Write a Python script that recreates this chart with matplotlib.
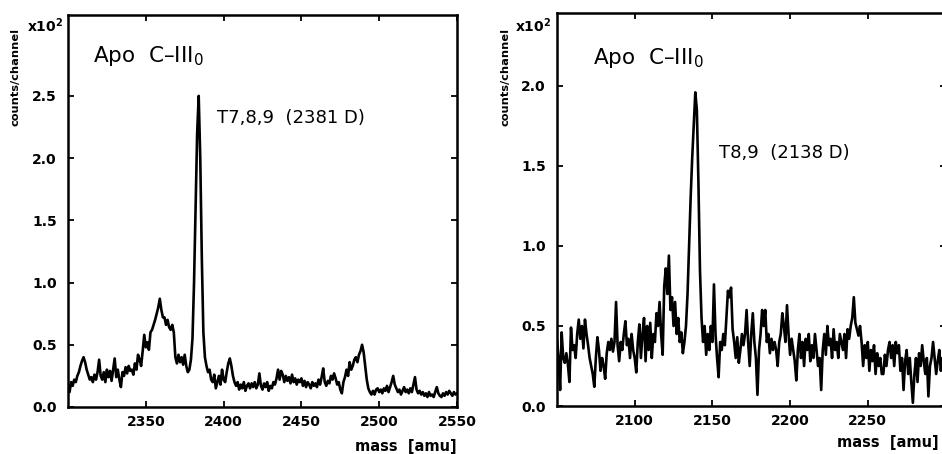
import numpy as np
import matplotlib
matplotlib.use('Agg')
import matplotlib.pyplot as plt

plt.rcParams['font.family'] = ['DejaVu Sans']

# --- channel grids (1 amu per channel) ---
mass_left = np.arange(2300, 2551)
mass_right = np.arange(2050, 2301)

# counts/channel in units of 1e2
counts_left = [
    0.18, 0.12, 0.20, 0.17, 0.22, 0.20, 0.25, 0.28, 0.33, 0.37,
    0.40, 0.36, 0.30, 0.26, 0.22, 0.24, 0.20, 0.26, 0.22, 0.28,
    0.38, 0.25, 0.22, 0.28, 0.20, 0.30, 0.24, 0.29, 0.21, 0.30,
    0.39, 0.24, 0.30, 0.22, 0.16, 0.28, 0.25, 0.32, 0.27, 0.33,
    0.29, 0.30, 0.26, 0.35, 0.30, 0.42, 0.38, 0.33, 0.45, 0.58,
    0.48, 0.52, 0.46, 0.60, 0.62, 0.66, 0.70, 0.75, 0.80, 0.87,
    0.78, 0.72, 0.72, 0.66, 0.70, 0.64, 0.62, 0.66, 0.60, 0.40,
    0.35, 0.42, 0.36, 0.40, 0.34, 0.42, 0.33, 0.28, 0.30, 0.38,
    0.55, 1.00, 1.60, 2.20, 2.50, 2.00, 1.20, 0.60, 0.40, 0.33,
    0.28, 0.30, 0.22, 0.20, 0.26, 0.15, 0.20, 0.25, 0.18, 0.30,
    0.22, 0.20, 0.28, 0.35, 0.39, 0.33, 0.25, 0.20, 0.17, 0.20,
    0.14, 0.18, 0.15, 0.20, 0.13, 0.17, 0.19, 0.15, 0.19, 0.16,
    0.20, 0.15, 0.18, 0.27, 0.17, 0.14, 0.19, 0.16, 0.20, 0.13,
    0.17, 0.15, 0.20, 0.18, 0.23, 0.30, 0.22, 0.29, 0.26, 0.20,
    0.25, 0.21, 0.24, 0.19, 0.26, 0.20, 0.23, 0.18, 0.22, 0.20,
    0.23, 0.17, 0.21, 0.16, 0.20, 0.18, 0.15, 0.20, 0.17, 0.19,
    0.16, 0.22, 0.18, 0.24, 0.31, 0.20, 0.17, 0.21, 0.19, 0.25,
    0.22, 0.27, 0.23, 0.18, 0.20, 0.14, 0.11, 0.20, 0.24, 0.30,
    0.25, 0.36, 0.30, 0.33, 0.38, 0.40, 0.36, 0.42, 0.45, 0.50,
    0.44, 0.33, 0.22, 0.15, 0.12, 0.10, 0.13, 0.10, 0.14, 0.15,
    0.12, 0.14, 0.11, 0.15, 0.13, 0.17, 0.12, 0.16, 0.20, 0.25,
    0.18, 0.15, 0.12, 0.14, 0.10, 0.13, 0.16, 0.12, 0.14, 0.11,
    0.15, 0.12, 0.18, 0.24, 0.14, 0.11, 0.13, 0.10, 0.12, 0.09,
    0.11, 0.08, 0.12, 0.09, 0.10, 0.08, 0.12, 0.16, 0.11, 0.09,
    0.08, 0.11, 0.09, 0.12, 0.10, 0.13, 0.11, 0.09, 0.12, 0.10,
    0.11,
]

counts_right = [
    0.41, 0.30, 0.10, 0.46, 0.30, 0.27, 0.33, 0.26, 0.15, 0.49,
    0.35, 0.38, 0.30, 0.45, 0.54, 0.42, 0.50, 0.36, 0.54, 0.45,
    0.38, 0.30, 0.25, 0.20, 0.12, 0.30, 0.43, 0.35, 0.22, 0.30,
    0.25, 0.17, 0.33, 0.40, 0.35, 0.42, 0.34, 0.40, 0.65, 0.38,
    0.28, 0.40, 0.35, 0.45, 0.53, 0.38, 0.42, 0.30, 0.45, 0.35,
    0.30, 0.21, 0.40, 0.51, 0.30, 0.45, 0.55, 0.28, 0.50, 0.35,
    0.52, 0.30, 0.45, 0.40, 0.58, 0.50, 0.65, 0.45, 0.32, 0.75,
    0.86, 0.70, 0.94, 0.60, 0.68, 0.50, 0.65, 0.45, 0.55, 0.40,
    0.46, 0.33, 0.40, 0.50, 0.70, 1.00, 1.30, 1.55, 1.75, 1.96,
    1.85, 1.40, 0.85, 0.55, 0.40, 0.50, 0.32, 0.45, 0.35, 0.50,
    0.40, 0.76, 0.45, 0.30, 0.18, 0.40, 0.35, 0.45, 0.38, 0.55,
    0.72, 0.68, 0.74, 0.48, 0.40, 0.30, 0.43, 0.27, 0.35, 0.45,
    0.38, 0.45, 0.60, 0.40, 0.25, 0.45, 0.58, 0.40, 0.30, 0.07,
    0.35, 0.45, 0.60, 0.50, 0.60, 0.40, 0.45, 0.33, 0.42, 0.35,
    0.40, 0.35, 0.25, 0.40, 0.45, 0.58, 0.50, 0.40, 0.63, 0.45,
    0.32, 0.42, 0.35, 0.28, 0.16, 0.35, 0.45, 0.30, 0.40, 0.25,
    0.42, 0.35, 0.45, 0.28, 0.38, 0.30, 0.45, 0.35, 0.25, 0.30,
    0.10, 0.35, 0.45, 0.32, 0.50, 0.38, 0.42, 0.30, 0.48, 0.35,
    0.40, 0.30, 0.45, 0.40, 0.35, 0.45, 0.30, 0.48, 0.42, 0.50,
    0.55, 0.68, 0.52, 0.48, 0.44, 0.50, 0.40, 0.25, 0.38, 0.30,
    0.40, 0.22, 0.35, 0.28, 0.38, 0.20, 0.33, 0.25, 0.30, 0.20,
    0.20, 0.32, 0.25, 0.35, 0.40, 0.30, 0.38, 0.25, 0.40, 0.33,
    0.38, 0.22, 0.30, 0.10, 0.28, 0.35, 0.20, 0.30, 0.15, 0.02,
    0.20, 0.30, 0.15, 0.33, 0.25, 0.38, 0.28, 0.20, 0.30, 0.06,
    0.25, 0.30, 0.40, 0.30, 0.20, 0.28, 0.35, 0.22, 0.30, 0.25,
    0.28,
]

xticks_left = [2350, 2400, 2450, 2500, 2550]
yticks_left = [0.0, 0.5, 1.0, 1.5, 2.0, 2.5]
xticks_right = [2100, 2150, 2200, 2250]
yticks_right = [0.0, 0.5, 1.0, 1.5, 2.0]

W, H = 942, 454
fig = plt.figure(figsize=(W / 100, H / 100), dpi=100)


def px_axes(x0, y0, x1, y1):
    return fig.add_axes([x0 / W, 1 - y1 / H, (x1 - x0) / W, (y1 - y0) / H])


def style(ax, xt, yt):
    ax.set_xticks(xt)
    ax.set_yticks(yt)
    ax.set_yticklabels([f'{v:.1f}' for v in yt])
    ax.tick_params(direction='in', length=4, width=1.3, top=True, right=True,
                   labelsize=10)
    ax.tick_params(axis='y', pad=8)
    ax.tick_params(axis='x', pad=6)
    for lab in ax.get_xticklabels() + ax.get_yticklabels():
        lab.set_fontweight('bold')
    for sp in ax.spines.values():
        sp.set_linewidth(1.8)


# left panel
ax1 = px_axes(68, 15, 457, 407)
ax1.plot(mass_left, counts_left, color='black', lw=1.9)
ax1.set_xlim(2300, 2550)
ax1.set_ylim(0, 3.15)
style(ax1, xticks_left, yticks_left)
ax1.text(93 / W, 1 - 56 / H, 'Apo  C–III$_\\mathregular{0}$', transform=fig.transFigure,
         fontsize=15.5, va='center', ha='left')
ax1.text(217 / W, 1 - 118 / H, 'T7,8,9  (2381 D)', transform=fig.transFigure,
         fontsize=13, va='center', ha='left')

# right panel
ax2 = px_axes(557, 13, 945.5, 406)
ax2.plot(mass_right, counts_right, color='black', lw=1.9)
ax2.set_xlim(2050, 2300)
ax2.set_ylim(0, 2.456)
style(ax2, xticks_right, yticks_right)
ax2.text(593 / W, 1 - 58 / H, 'Apo  C–III$_\\mathregular{0}$', transform=fig.transFigure,
         fontsize=15.5, va='center', ha='left')
ax2.text(719 / W, 1 - 153 / H, 'T8,9  (2138 D)', transform=fig.transFigure,
         fontsize=13, va='center', ha='left')

# shared-style labels
for xl, xm, xlab_r, ylab_y in [(16, 45, 457, 446), (506, 533, 939, 443)]:
    fig.text(xl / W, 1 - 28 / H, 'counts/channel', rotation=90, fontsize=8.2,
             fontweight='bold', ha='center', va='top')
    fig.text(xm / W, 1 - 26 / H, 'x10$^\\mathregular{2}$', fontsize=10,
             fontweight='bold', ha='center', va='center')
    fig.text(xlab_r / W, 1 - ylab_y / H, 'mass  [amu]', fontsize=10.5,
             fontweight='bold', ha='right', va='center')

fig.savefig('out.png', dpi=100)
